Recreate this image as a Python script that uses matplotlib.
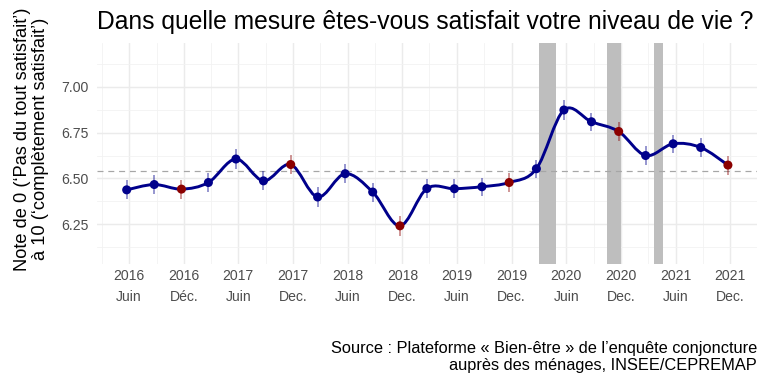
import numpy as np
import pandas as pd
import matplotlib
matplotlib.use("Agg")
import matplotlib.pyplot as plt
import matplotlib.dates as mdates
from matplotlib.path import Path
from matplotlib.patches import PathPatch

plt.rcParams['font.family'] = ['Liberation Sans', 'DejaVu Sans']

# quarterly survey points
dates = ["2016-06-07", "2016-09-07", "2016-12-07", "2017-03-07", "2017-06-07",
         "2017-09-07", "2017-12-07", "2018-03-07", "2018-06-07", "2018-09-07",
         "2018-12-07", "2019-03-07", "2019-06-07", "2019-09-07", "2019-12-07",
         "2020-03-07", "2020-06-07", "2020-09-07", "2020-12-07", "2021-03-07",
         "2021-06-07", "2021-09-07", "2021-12-07"]
values = [6.438, 6.467, 6.442, 6.478, 6.606, 6.487, 6.576, 6.399, 6.526, 6.426,
          6.242, 6.445, 6.444, 6.455, 6.478, 6.553, 6.873, 6.809, 6.756, 6.625,
          6.689, 6.669, 6.573]
errors = [0.052, 0.052, 0.052, 0.052, 0.052, 0.052, 0.053, 0.052, 0.052, 0.052,
          0.054, 0.052, 0.051, 0.050, 0.050, 0.050, 0.052, 0.050, 0.054, 0.052,
          0.050, 0.050, 0.052]
december = [False, False, True, False, False, False, True, False, False, False,
            True, False, False, False, True, False, False, False, True, False,
            False, False, True]

# lockdown periods
lock_start = ["2020-03-17", "2020-10-30", "2021-04-03"]
lock_end = ["2020-05-11", "2020-12-15", "2021-05-03"]

tick_dates = ["2016-06-15", "2016-12-15", "2017-06-15", "2017-12-15",
              "2018-06-15", "2018-12-15", "2019-06-15", "2019-12-15",
              "2020-06-15", "2020-12-15", "2021-06-15", "2021-12-15"]
tick_labels = ["2016\nJuin", "2016\nDéc.", "2017\nJuin", "2017\nDec.",
               "2018\nJuin", "2018\nDec.", "2019\nJuin", "2019\nDec.",
               "2020\nJuin", "2020\nDec.", "2021\nJuin", "2021\nDec."]
minor_dates = ["2016-03-15", "2016-09-15", "2017-03-15", "2017-09-15",
               "2018-03-15", "2018-09-15", "2019-03-15", "2019-09-15",
               "2020-03-15", "2020-09-15", "2021-03-15", "2021-09-15",
               "2022-03-15"]

x = mdates.date2num(pd.to_datetime(dates))
y = np.array(values)
err = np.array(errors)
red = np.array(december)

fig = plt.figure(figsize=(8, 4), dpi=96)
ax = fig.add_axes([0.126, 0.3125, 0.86, 0.5755])

# grid
for t in mdates.date2num(pd.to_datetime(tick_dates)):
    ax.axvline(t, color='#EBEBEB', lw=1.1, zorder=0)
for t in mdates.date2num(pd.to_datetime(minor_dates)):
    ax.axvline(t, color='#F2F2F2', lw=0.6, zorder=0)
for v in [6.25, 6.5, 6.75, 7.0]:
    ax.axhline(v, color='#EBEBEB', lw=1.1, zorder=0)
for v in [6.125, 6.375, 6.625, 6.875, 7.125]:
    ax.axhline(v, color='#F2F2F2', lw=0.6, zorder=0)

for s, e in zip(mdates.date2num(pd.to_datetime(lock_start)),
                mdates.date2num(pd.to_datetime(lock_end))):
    ax.axvspan(s, e, color='#BEBEBE', lw=0, zorder=1)

ax.axhline(np.mean(y), color='#A6A6A6', lw=0.9, ls=(0, (5, 4)), zorder=2)

# smooth line through the points (Catmull-Rom as cubic Bezier)
pts = np.column_stack([x, y])
ext = np.vstack([pts[0], pts, pts[-1]])
verts = [tuple(pts[0])]
codes = [Path.MOVETO]
for i in range(len(pts) - 1):
    p0, p1, p2, p3 = ext[i], ext[i + 1], ext[i + 2], ext[i + 3]
    c1 = p1 + (p2 - p0) / 6
    c2 = p2 - (p3 - p1) / 6
    verts += [tuple(c1), tuple(c2), tuple(p2)]
    codes += [Path.CURVE4] * 3
ax.add_patch(PathPatch(Path(verts, codes), fill=False, edgecolor='#00008B',
                       lw=2.2, zorder=3, capstyle='round', joinstyle='round'))

blue = '#00008B'
dred = '#8B0000'
cols = [dred if r else blue for r in red]
ax.vlines(x, y - err, y + err, colors=cols, lw=1.2, alpha=0.5, zorder=4)
ax.scatter(x, y, s=46, c=cols, zorder=5, linewidths=0)

ax.set_xlim(mdates.date2num(pd.Timestamp("2016-02-28")),
            mdates.date2num(pd.Timestamp("2022-03-15")))
ax.set_ylim(6.034, 7.238)
ax.set_xticks(mdates.date2num(pd.to_datetime(tick_dates)))
ax.set_xticklabels(tick_labels, linespacing=1.65)
ax.set_yticks([6.25, 6.5, 6.75, 7.0])
ax.set_yticklabels(["6.25", "6.50", "6.75", "7.00"])
ax.tick_params(length=0, labelsize=10.5, labelcolor='#4D4D4D')
ax.tick_params(axis='x', pad=4)
ax.tick_params(axis='y', pad=6)
for sp in ax.spines.values():
    sp.set_visible(False)

fig.text(0.041, 0.638, "Note de 0 (‘Pas du tout satisfait’)\nà 10 (‘complètement satisfait’)",
         fontsize=13.7, rotation=90, ha='center', va='center', linespacing=1.08,
         multialignment='center')

fig.text(0.126, 0.943, "Dans quelle mesure êtes-vous satisfait votre niveau de vie ?",
         fontsize=18.5, ha='left', va='center')
fig.text(0.986, 0.113,
         "Source : Plateforme « Bien-être » de l’enquête conjoncture\nauprès des ménages, INSEE/CEPREMAP",
         fontsize=12.3, ha='right', va='top', linespacing=1.2)

fig.savefig("out.png", dpi=96)
